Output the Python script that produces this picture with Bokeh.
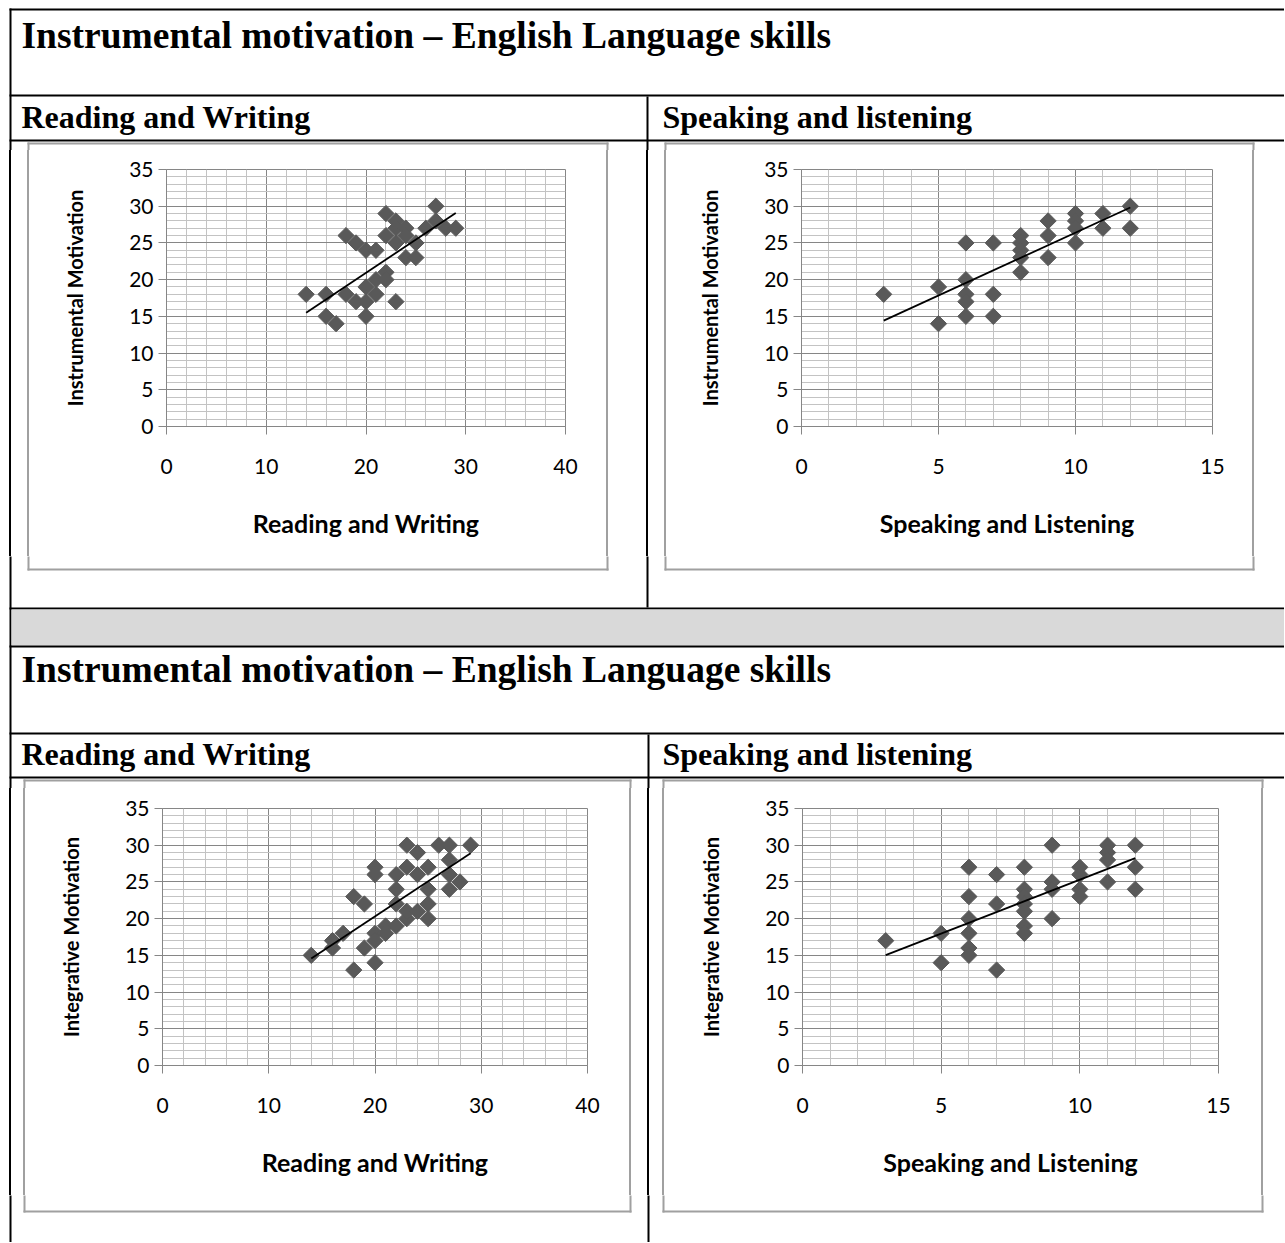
import numpy as np
from bokeh.plotting import figure
from bokeh.layouts import row, column
from bokeh.models import Range1d, SingleIntervalTicker, Div
from bokeh.core.properties import value
from bokeh.embed import file_html
from bokeh.resources import INLINE

# ---------------- data ----------------
title_text = "Instrumental motivation \u2013 English Language skills"
header_left = "Reading and Writing"
header_right = "Speaking and listening"

x_label_rw = "Reading and Writing"
x_label_sl = "Speaking and Listening"
y_label_instr = "Instrumental Motivation"
y_label_integ = "Integrative Motivation"

# Chart 1: Reading & Writing vs Instrumental motivation
rw_1 = [14, 16, 16, 17, 18, 18, 19, 19, 20, 20, 20, 20, 21, 21, 21, 22, 22, 22, 22,
        23, 23, 23, 23, 24, 24, 24, 25, 25, 26, 27, 27, 28, 29]
instr_1 = [18, 18, 15, 14, 18, 26, 25, 17, 24, 19, 17, 15, 24, 20, 18, 29, 26, 21, 20,
           28, 25, 17, 27, 27, 23, 26, 23, 25, 27, 30, 28, 27, 27]

# Chart 2: Speaking & Listening vs Instrumental motivation
sl_2 = [3, 5, 5, 6, 6, 6, 6, 6, 7, 7, 7, 8, 8, 8, 8, 8, 9, 9, 9, 10, 10, 10, 10, 11, 11, 12, 12]
instr_2 = [18, 19, 14, 25, 20, 18, 17, 15, 25, 18, 15, 26, 25, 24, 23, 21, 28, 26, 23,
           29, 28, 27, 25, 29, 27, 30, 27]

# Chart 3: Reading & Writing vs Integrative motivation
rw_3 = [14, 16, 16, 17, 18, 18, 19, 19, 20, 20, 20, 20, 20, 21, 21, 22, 22, 22, 22,
        23, 23, 23, 23, 24, 24, 24, 25, 25, 25, 25, 26, 27, 27, 27, 27, 28, 29]
integ_3 = [15, 16, 17, 18, 13, 23, 22, 16, 14, 27, 26, 18, 17, 19, 18, 26, 24, 22, 19,
           30, 27, 20, 21, 29, 26, 21, 27, 24, 22, 20, 30, 30, 28, 26, 24, 25, 30]

# Chart 4: Speaking & Listening vs Integrative motivation
sl_4 = [3, 5, 5, 6, 6, 6, 6, 6, 6, 7, 7, 7, 8, 8, 8, 8, 8, 8, 8, 9, 9, 9, 9,
        10, 10, 10, 10, 11, 11, 11, 11, 12, 12, 12]
integ_4 = [17, 18, 14, 27, 23, 20, 18, 16, 15, 26, 22, 13, 27, 24, 23, 22, 21, 19, 18,
           30, 25, 24, 20, 27, 26, 24, 23, 30, 29, 28, 25, 30, 27, 24]

y_max = 35
y_step = 5
rw_max, rw_step = 40, 10
sl_max, sl_step = 15, 5

# ---------------- styles ----------------
BLACK = "black"
BOX_GRAY = "#a0a0a0"
BAND_GRAY = "#d9d9d9"
MAJOR_GRID = "#868686"
MINOR_GRID = "#c3c3c3"
MARKER = "#595959"
SANS = "Lato"
SERIF = "Liberation Serif"

WP, HP = 1284, 1242   # page size in pixels

# vertical table / box edges that run through each chart row (page x from, to, colour)
ROW1_EDGES = [(9, 11, BLACK), (27, 29, BOX_GRAY), (606, 608, BOX_GRAY), (646, 648, BLACK),
              (664, 666, BOX_GRAY), (1252, 1254, BOX_GRAY)]
ROW2_EDGES = [(9, 11, BLACK), (23, 25, BOX_GRAY), (629, 631, BOX_GRAY), (647, 649, BLACK),
              (662, 664, BOX_GRAY), (1261, 1263, BOX_GRAY)]


def base_fig(w, h, **kw):
    return figure(width=w, height=h, toolbar_location=None, output_backend="svg", **kw)


def rect(p, l, r, t, b, color=BLACK):
    p.quad(left=[l], right=[r], top=[t], bottom=[b], fill_color=color, line_color=None)


def heading(p, x, baseline, s, size_px):
    # empirical baseline correction for bokeh's svg text placement
    p.text(x=[x], y=[baseline - round(0.35 * size_px)], text=[s], text_font=value(SERIF),
           text_font_style="bold", text_font_size=f"{size_px}px",
           text_baseline="alphabetic", text_align="left", text_color=BLACK)


def box(p, l, r, t, b, bw=2):
    rect(p, l, r, t, t + bw, BOX_GRAY)
    rect(p, l, r, b - bw, b, BOX_GRAY)
    rect(p, l, l + bw, t, b, BOX_GRAY)
    rect(p, r - bw, r, t, b, BOX_GRAY)


def decorate(p):
    # table 1
    rect(p, 9, WP, 8, 10)
    rect(p, 9, 11, 8, HP)
    rect(p, 9, WP, 94, 96)
    rect(p, 9, WP, 139, 141)
    rect(p, 646, 648, 96, 607)
    # separator band
    rect(p, 9, WP, 607, 609)
    rect(p, 11, WP, 609, 645, BAND_GRAY)
    rect(p, 9, WP, 645, 647)
    # table 2
    rect(p, 9, WP, 732, 734)
    rect(p, 9, WP, 776, 778)
    rect(p, 647, 649, 734, HP)
    # chart boxes
    box(p, 27, 608, 142, 570)
    box(p, 664, 1254, 142, 570)
    box(p, 23, 631, 779, 1212)
    box(p, 662, 1263, 779, 1212)


def pixel_fig(x0, x1, y0, y1):
    p = base_fig(x1 - x0, y1 - y0, x_range=Range1d(x0, x1), y_range=Range1d(y1, y0),
                 x_axis_location=None, y_axis_location=None, min_border=0,
                 outline_line_color=None, background_fill_color="white",
                 border_fill_color="white")
    p.grid.visible = False
    decorate(p)
    return p


def strip(x0, x1, h, edges):
    stops, pos = [], 0
    for a, b, c in edges:
        if b <= x0 or a >= x1:
            continue
        la, lb = max(a, x0) - x0, min(b, x1) - x0
        stops += [f"white {pos}px", f"white {la}px", f"{c} {la}px", f"{c} {lb}px"]
        pos = lb
    stops += [f"white {pos}px", f"white {x1 - x0}px"]
    grad = "linear-gradient(to right, " + ", ".join(stops) + ")"
    return Div(text="", width=x1 - x0, height=h, margin=0,
               styles={"background": grad, "width": f"{x1 - x0}px", "height": f"{h}px"})


def chart(xs, ys, xmax, xstep, xlabel, ylabel, w, h, ml, mr, mt, mb):
    p = base_fig(w, h, x_range=Range1d(0, xmax), y_range=Range1d(0, y_max),
                 min_border_left=ml, min_border_right=mr, min_border_top=mt,
                 min_border_bottom=mb, background_fill_color="white",
                 border_fill_color="white", outline_line_color=MAJOR_GRID)
    p.xaxis.ticker = SingleIntervalTicker(interval=xstep, num_minor_ticks=5)
    p.yaxis.ticker = SingleIntervalTicker(interval=y_step, num_minor_ticks=5)
    for ax in (p.xaxis[0], p.yaxis[0]):
        ax.axis_line_color = MAJOR_GRID
        ax.major_tick_line_color = MAJOR_GRID
        ax.major_tick_out = 8
        ax.major_tick_in = 0
        ax.minor_tick_line_color = None
        ax.major_label_text_font = SANS
        ax.major_label_text_font_size = "21px"
        ax.major_label_text_color = BLACK
        ax.axis_label_text_font = SANS
        ax.axis_label_text_font_style = "bold"
        ax.axis_label_text_color = BLACK
    p.xaxis.axis_label = xlabel
    p.yaxis.axis_label = ylabel
    p.xaxis.axis_label_text_font_size = "25px"
    p.yaxis.axis_label_text_font_size = "20px"
    p.xaxis.major_label_standoff = 24
    p.xaxis.axis_label_standoff = 31
    p.yaxis.major_label_standoff = 5
    p.yaxis.axis_label_standoff = 39
    for g in (p.xgrid[0], p.ygrid[0]):
        g.grid_line_color = MAJOR_GRID
        g.minor_grid_line_color = MINOR_GRID
        g.grid_line_width = 1
        g.minor_grid_line_width = 1
    p.scatter(xs, ys, marker="square", angle=np.pi / 4, size=11.5,
              fill_color=MARKER, line_color=MARKER)
    a, b = np.polyfit(xs, ys, 1)
    xx = np.array([min(xs), max(xs)], dtype=float)
    p.line(xx, a * xx + b, line_color=BLACK, line_width=1.8)
    return p


# ---------------- layout ----------------
R1T, R1B = 150, 556
R2T, R2B = 788, 1195

top = pixel_fig(0, WP, 0, R1T)
heading(top, 21, 48, title_text, 37.5)
heading(top, 21, 127, header_left, 32)
heading(top, 662, 127, header_right, 32)

c1 = chart(rw_1, instr_1, rw_max, rw_step, x_label_rw, y_label_instr,
           606 - 29, R1B - R1T, 166 - 29, 606 - 565, 169 - R1T, R1B - 426)
c2 = chart(sl_2, instr_2, sl_max, sl_step, x_label_sl, y_label_instr,
           1252 - 666, R1B - R1T, 801 - 666, 1252 - 1212, 169 - R1T, R1B - 426)
row1 = row(strip(0, 29, R1B - R1T, ROW1_EDGES), c1,
           strip(606, 666, R1B - R1T, ROW1_EDGES), c2,
           strip(1252, WP, R1B - R1T, ROW1_EDGES))

band = pixel_fig(0, WP, R1B, R2T)
heading(band, 21, 682, title_text, 37.5)
heading(band, 21, 764, header_left, 32)
heading(band, 662, 764, header_right, 32)

c3 = chart(rw_3, integ_3, rw_max, rw_step, x_label_rw, y_label_integ,
           629 - 25, R2B - R2T, 162 - 25, 629 - 587, 808 - R2T, R2B - 1065)
c4 = chart(sl_4, integ_4, sl_max, sl_step, x_label_sl, y_label_integ,
           1261 - 664, R2B - R2T, 802 - 664, 1261 - 1218, 808 - R2T, R2B - 1065)
row2 = row(strip(0, 25, R2B - R2T, ROW2_EDGES), c3,
           strip(629, 664, R2B - R2T, ROW2_EDGES), c4,
           strip(1261, WP, R2B - R2T, ROW2_EDGES))

bottom = pixel_fig(0, WP, R2B, HP)

page = column(top, row1, band, row2, bottom)

open("out.html", "w").write(file_html(page, INLINE))
